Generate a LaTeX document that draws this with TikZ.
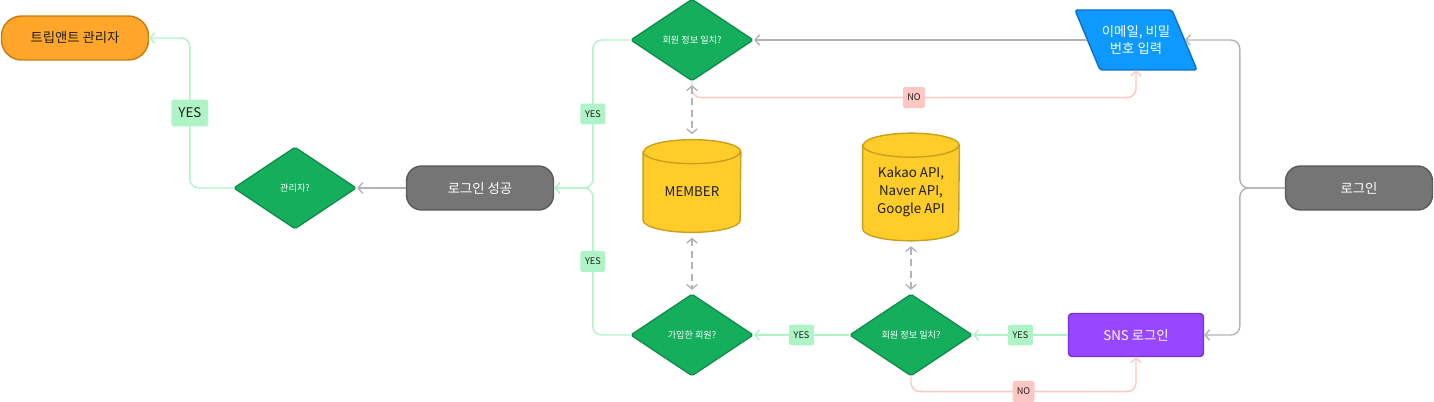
\documentclass[tikz,border=0pt]{standalone}
\usepackage{fontspec}
\setmainfont{Noto Sans CJK KR}
\usetikzlibrary{shapes.geometric,arrows.meta}

\definecolor{orangefill}{HTML}{FFA62B}
\definecolor{orangeline}{HTML}{C97A0E}
\definecolor{greenfill}{HTML}{14AE5C}
\definecolor{greenline}{HTML}{0E8A47}
\definecolor{pillfill}{HTML}{757575}
\definecolor{pillline}{HTML}{5A5A5A}
\definecolor{dbfill}{HTML}{FFCD29}
\definecolor{dbline}{HTML}{C9A020}
\definecolor{bluefill}{HTML}{0D99FF}
\definecolor{blueline}{HTML}{0A6FCC}
\definecolor{purplefill}{HTML}{9747FF}
\definecolor{purpleline}{HTML}{7A30D8}
\definecolor{grayarrow}{HTML}{B3B3B3}
\definecolor{yesgreen}{HTML}{AFF4C6}
\definecolor{nopink}{HTML}{FFC7C2}
\definecolor{labeltext}{HTML}{1E1E1E}

\begin{document}
\begin{tikzpicture}[x=0.02cm,y=-0.02cm,
    >={Straight Barb[length=2.6pt,width=6pt]},
    bigtext/.style={font=\fontsize{7.6}{10.2}\selectfont},
    smalltext/.style={font=\fontsize{5.2}{6}\selectfont},
    pillbox/.style={rectangle,rounded corners=0.3cm,draw=pillline,fill=pillfill,
        line width=0.8pt,text=white,bigtext,minimum width=2.94cm,minimum height=0.88cm},
    decision/.style={diamond,draw=greenline,fill=greenfill,line width=0.7pt,
        rounded corners=1pt,text=white,smalltext,inner sep=0pt,
        minimum width=2.46cm,minimum height=1.64cm},
    dbtext/.style={rectangle,inner sep=0pt,text=labeltext,bigtext,align=center},
    dbbox/.style={draw=dbline,fill=dbfill,line width=0.8pt},
    conn/.style={line width=0.8pt,rounded corners=5pt,->},
    grayconn/.style={conn,draw=grayarrow},
    yesconn/.style={conn,draw=yesgreen},
    noconn/.style={conn,draw=nopink},
    dbconn/.style={line width=0.8pt,draw=grayarrow,dash pattern=on 4pt off 2.5pt,<->},
    yeslabel/.style={fill=yesgreen,rounded corners=1pt,text=labeltext,smalltext,
        inner sep=0pt,minimum width=0.5cm,minimum height=0.42cm},
    nolabel/.style={yeslabel,fill=nopink,minimum width=0.44cm}]

\useasboundingbox (0,0) rectangle (1434,402);

% boxes
\node [pillbox,fill=orangefill,draw=orangeline,text=labeltext,rounded corners=0.4cm]
    (tripant) at (75,38) {트립앤트 관리자};
\node [decision] (admin)   at (295,188) {관리자?};
\node [pillbox]  (success) at (480,188) {로그인 성공};
\node [decision] (match1)  at (692,40)  {회원 정보 일치?};
\node [decision] (joined)  at (692,335) {가입한 회원?};
\node [decision] (match2)  at (911,335) {회원 정보 일치?};
\node [pillbox]  (login)   at (1359,188) {로그인};
\node [rectangle,rounded corners=2pt,draw=purpleline,fill=purplefill,line width=0.8pt,
    text=white,bigtext,minimum width=2.7cm,minimum height=0.86cm]
    (sns) at (1136,335) {SNS 로그인};

% input
\draw [draw=blueline,fill=bluefill,line width=0.8pt,rounded corners=1.5pt]
    (1075,10) -- (1172,10) -- (1197,70) -- (1100,70) -- cycle;
\node [rectangle,inner sep=0pt,minimum width=1.94cm,minimum height=1.2cm,
    text=white,bigtext,align=center] (email) at (1136,40) {이메일, 비밀\\번호 입력};

% databases
\node [dbtext,minimum width=1.94cm,minimum height=1.84cm] (member) at (692,186) {};
\node [dbtext,minimum width=1.92cm,minimum height=2.14cm] (api)    at (911,187) {};
\foreach \db/\rx in {member/0.97cm,api/0.96cm} {
  \draw [dbbox] ([yshift=-0.24cm]\db.north west) -- ([yshift=0.24cm]\db.south west)
      arc [start angle=180,end angle=360,x radius=\rx,y radius=0.24cm]
      -- ([yshift=-0.24cm]\db.north east)
      arc [start angle=0,end angle=180,x radius=\rx,y radius=0.24cm] -- cycle;
  \draw [dbbox,fill=none] ([yshift=-0.24cm]\db.north west)
      arc [start angle=180,end angle=360,x radius=\rx,y radius=0.24cm];
}
\node [dbtext] at ([yshift=-0.12cm]member.center) {MEMBER};
\node [dbtext] at ([yshift=-0.1cm]api.center) {Kakao API,\\Naver API,\\Google API};

% connectors
\draw [grayconn] (login.west) -- ++(-45,0) |- (email.east);
\draw [grayconn] (login.west) -- ++(-45,0) |- (sns.east);
\draw [grayconn] (email.west) -- (match1.east);
\draw [grayconn] (success.west) -- (admin.east);

\draw [noconn] (match1.south) -- ++(0,16) -| (email.south)
    node [pos=0.25,nolabel] {NO};
\draw [noconn] (match2.south) -- ++(0,15) -| (sns.south)
    node [pos=0.25,nolabel] {NO};

\draw [yesconn] (match1.west) -- ++(-37,0) |- (success.east)
    node [pos=0.25,yeslabel] {YES};
\draw [yesconn] (joined.west) -- ++(-37,0) |- (success.east)
    node [pos=0.25,yeslabel] {YES};
\draw [yesconn] (admin.west) -- ++(-43,0) |- (tripant.east)
    node [pos=0.25,yeslabel,bigtext,minimum width=0.74cm,minimum height=0.54cm] {YES};
\draw [yesconn] (sns.west) -- (match2.east) node [midway,yeslabel] {YES};
\draw [yesconn] (match2.west) -- (joined.east) node [midway,yeslabel] {YES};

\draw [dbconn,shorten <=2pt,shorten >=3pt] (match1.south) -- (member.north);
\draw [dbconn,shorten <=3pt,shorten >=2pt] (member.south) -- (joined.north);
\draw [dbconn,shorten <=3pt,shorten >=2pt] (api.south) -- (match2.north);
\end{tikzpicture}
\end{document}
